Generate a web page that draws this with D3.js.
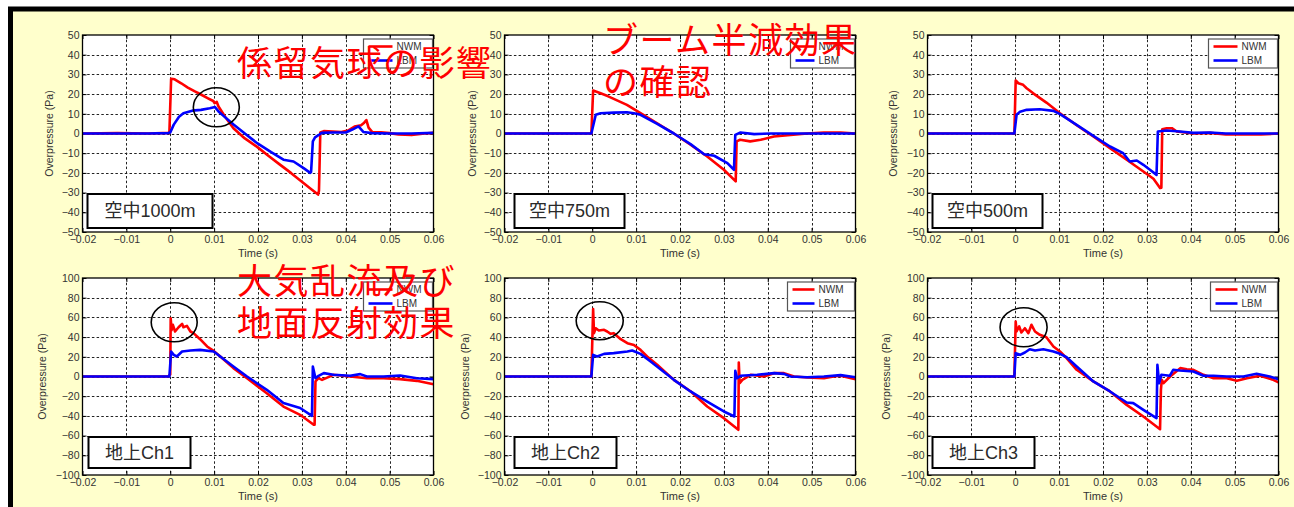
<!DOCTYPE html>
<html>
<head>
<meta charset="utf-8">
<script src="https://cdn.jsdelivr.net/npm/d3@7"></script>
<style>
  html, body { margin: 0; padding: 0; background: #fff; }
  svg { display: block; }
</style>
</head>
<body>
<svg id="chart" width="1294" height="507"></svg>
<script>
// ---- Axis ticks ----
const timeTicks = [-0.02, -0.01, 0, 0.01, 0.02, 0.03, 0.04, 0.05, 0.06];
const airTicks = [-50, -40, -30, -20, -10, 0, 10, 20, 30, 40, 50];
const groundTicks = [-100, -80, -60, -40, -20, 0, 20, 40, 60, 80, 100];

// ---- Panel names ----
const panelTitles = ["空中1000m", "空中750m", "空中500m", "地上Ch1", "地上Ch2", "地上Ch3"];
const seriesNames = ["NWM", "LBM"];

// ---- Measured / simulated waveforms: [time (s), overpressure (Pa)] ----
const nwmAir1000 = [[-0.02,0],[-0.012,0.2],[-0.005,0],[-0.0002,0.3],[0.0002,27.8],[0.001,27.5],[0.0025,25.5],
  [0.004,23.3],[0.0055,21.5],[0.007,19.8],[0.0085,18],[0.0098,16.5],[0.0101,15.4],[0.0106,16],[0.011,13.7],
  [0.0125,8.5],[0.0144,2.7],[0.017,-2.5],[0.0198,-6.8],[0.0225,-11.5],[0.025,-15.8],[0.0275,-20],
  [0.03,-24.5],[0.032,-28],[0.0337,-31],[0.0339,-29],[0.0342,0.5],[0.035,1.2],[0.037,1],[0.039,0.8],
  [0.0405,1.5],[0.042,3.5],[0.0435,4.2],[0.0442,5.5],[0.0447,6.8],[0.0452,3],[0.046,0.8],[0.048,0.6],
  [0.05,0.2],[0.052,-0.5],[0.055,-0.8],[0.058,0],[0.06,0.3]];
const lbmAir1000 = [[-0.02,0],[-0.005,0],[-0.0005,0.2],[0,0.5],[0.0008,4.5],[0.002,8.5],[0.003,10.3],[0.005,11.6],
  [0.007,12],[0.009,12.8],[0.0102,13.4],[0.011,11.2],[0.012,9.2],[0.0145,4.4],[0.017,0],[0.0198,-4.9],
  [0.023,-9.5],[0.0258,-13.3],[0.0281,-14.2],[0.0304,-17.6],[0.0319,-20],[0.0321,-19.5],[0.0325,-4],
  [0.033,-2],[0.034,-0.5],[0.0345,0.3],[0.037,0.5],[0.04,0.5],[0.0415,2],[0.0429,3.6],[0.044,0.8],
  [0.046,0.2],[0.05,0],[0.055,0],[0.06,0.3]];

const nwmAir750 = [[-0.02,0],[-0.01,0],[-0.0002,0],[0.0002,21.8],[0.0019,20.4],[0.0035,19],[0.0049,17.6],
  [0.0079,14.5],[0.011,10.3],[0.0148,5.2],[0.0186,0],[0.0224,-5.7],[0.0262,-11.7],[0.03,-18.4],
  [0.0327,-24.3],[0.0329,-4],[0.0337,-3.2],[0.036,-4],[0.0384,-3.2],[0.0414,-1.5],[0.0452,-0.7],
  [0.049,0],[0.0528,0.5],[0.0566,0.5],[0.06,0]];
const lbmAir750 = [[-0.02,0],[-0.01,0],[-0.0002,0],[0.0008,9.5],[0.0019,10.3],[0.0049,10.6],[0.0079,10.8],
  [0.0095,10.3],[0.011,9.5],[0.0148,4.9],[0.0186,0],[0.0224,-5.4],[0.0255,-10.5],[0.0278,-11.3],
  [0.0308,-15],[0.0323,-18.4],[0.0326,-0.7],[0.0338,0.5],[0.0369,-0.3],[0.0407,0],[0.05,0],[0.06,0]];

const nwmAir500 = [[-0.02,0],[-0.01,0],[-0.0002,0],[0.0001,26.9],[0.0007,25.5],[0.0018,24.7],[0.0026,23],
  [0.0041,20.4],[0.0071,15.7],[0.0102,10.3],[0.014,4.2],[0.0178,-1.5],[0.0216,-7.4],[0.0254,-13.3],
  [0.0292,-19.3],[0.0315,-23],[0.033,-27.7],[0.0333,-27.5],[0.0335,2.2],[0.0345,2.7],[0.0357,2.7],
  [0.0368,1],[0.0406,0],[0.0444,0.3],[0.048,-0.5],[0.052,-0.5],[0.056,-0.5],[0.06,0]];
const lbmAir500 = [[-0.02,0],[-0.01,0],[-0.0002,0],[0.0003,9.5],[0.0011,11.1],[0.0026,12],[0.0056,12.3],
  [0.0087,11.5],[0.0102,9.8],[0.014,4.4],[0.0178,-1.2],[0.0216,-6.6],[0.0246,-10],[0.0261,-14.2],
  [0.0277,-13.7],[0.0292,-15.9],[0.0307,-18.4],[0.0322,-21],[0.0325,1],[0.0345,1.5],[0.0375,1],
  [0.0406,0.3],[0.0444,0.5],[0.048,0],[0.06,0]];

const nwmGround1 = [[-0.02,0],[-0.01,0],[-0.0005,0],[0,2],[0.0001,59],[0.0003,47],[0.0006,52.5],[0.0011,45.7],
  [0.0019,50],[0.0027,53.5],[0.003,50],[0.0038,51.4],[0.0046,45.7],[0.0053,44],[0.0068,37.9],
  [0.0084,30.5],[0.0099,26],[0.0114,20.3],[0.0144,8.5],[0.0175,-1.7],[0.022,-17],[0.0258,-30.5],
  [0.0296,-38.9],[0.0327,-49],[0.0329,-49],[0.0331,-5],[0.0338,-1.7],[0.0346,-3.4],[0.0372,1.7],
  [0.041,0],[0.0448,-1.7],[0.0486,-1.7],[0.0524,-2.7],[0.0562,-4.4],[0.06,-7.8]];
const lbmGround1 = [[-0.02,0],[-0.01,0],[-0.0002,0],[0.0002,25.4],[0.0008,22],[0.0015,20.3],[0.0027,25.4],
  [0.0046,26.4],[0.0068,27],[0.0099,25.4],[0.0114,20.3],[0.0144,10.2],[0.0175,0],[0.022,-13.5],
  [0.0258,-27],[0.0296,-32],[0.0323,-40],[0.0325,10.2],[0.0331,-1.7],[0.0338,0.7],[0.035,3.4],
  [0.0372,1.7],[0.041,0.7],[0.0433,2.4],[0.0448,0],[0.0486,0],[0.0524,1],[0.0562,-1.7],[0.06,-2.7]];

const nwmGround2 = [[-0.02,0],[-0.01,0],[-0.0002,0],[0.0002,68.4],[0.0004,44],[0.0008,49],[0.0015,46.7],
  [0.0027,47.4],[0.0034,45.7],[0.0042,43.3],[0.0049,44],[0.0065,37.9],[0.008,33.8],[0.0095,32],
  [0.011,27],[0.0125,20.3],[0.0148,12],[0.0186,-3.4],[0.0224,-15],[0.0262,-30.5],[0.03,-42.3],
  [0.0333,-54.1],[0.0334,14.2],[0.0336,-6.8],[0.0342,-3.4],[0.0361,1.7],[0.0391,0],[0.0414,3.4],
  [0.0437,3.4],[0.046,0],[0.049,-1],[0.0528,-1.7],[0.055,0],[0.0566,0.7],[0.06,-2.7]];
const lbmGround2 = [[-0.02,0],[-0.01,0],[-0.0002,0],[0.0002,22],[0.0011,20.3],[0.0027,23],[0.0049,23.7],
  [0.008,25.4],[0.0091,26.4],[0.011,23],[0.0133,15.2],[0.0186,-3.4],[0.0224,-15.2],[0.0262,-25.4],
  [0.03,-35.5],[0.0324,-40.6],[0.0326,5.8],[0.033,-1.7],[0.0338,0.7],[0.0376,1.7],[0.0414,3.4],
  [0.0437,2.7],[0.0452,0],[0.049,-0.7],[0.0528,0],[0.0566,1.4],[0.06,-0.7]];

const nwmGround3 = [[-0.02,0],[-0.01,0],[-0.0002,0],[0.0001,55.8],[0.0003,45.7],[0.0009,50.8],[0.0014,44.7],
  [0.0022,49],[0.003,44],[0.0037,52.5],[0.0045,45.7],[0.0056,42.3],[0.0071,39.9],[0.0087,30.5],
  [0.0102,25.4],[0.0117,18.6],[0.014,6.8],[0.0178,-5],[0.0216,-15.2],[0.0254,-28.8],[0.0292,-40.6],
  [0.033,-53.5],[0.0332,-13.5],[0.0334,-3.4],[0.0338,-6.8],[0.0353,0],[0.0376,8.5],[0.0391,7.4],
  [0.0406,6.8],[0.0429,1.7],[0.0452,-1.7],[0.0482,-1.7],[0.0505,-4.4],[0.0528,-1.7],[0.0558,0.7],
  [0.0588,-3.4],[0.06,-6]];
const lbmGround3 = [[-0.02,0],[-0.01,0],[-0.0002,0],[0.0001,23.7],[0.0011,22],[0.0022,24.4],[0.0033,27.7],
  [0.0045,26.4],[0.0064,27.7],[0.0087,25.4],[0.0102,23],[0.0117,19.6],[0.014,10.2],[0.0178,-5],
  [0.0216,-15.2],[0.0254,-26.4],[0.0269,-27],[0.0292,-33.8],[0.0322,-42.3],[0.0324,11.8],
  [0.0328,-6.8],[0.0333,1.7],[0.0352,0.7],[0.036,6.8],[0.0375,6.1],[0.0406,5.1],[0.0429,0.7],
  [0.0452,0.7],[0.0482,0],[0.052,0],[0.055,2.7],[0.058,0],[0.06,-2.7]];

const nwmSeries = [nwmAir1000, nwmAir750, nwmAir500, nwmGround1, nwmGround2, nwmGround3];
const lbmSeries = [lbmAir1000, lbmAir750, lbmAir500, lbmGround1, lbmGround2, lbmGround3];

// Highlight ellipses: [panel, centre time, centre Pa, half-width s, half-height Pa]
const highlights = [
  [0, 0.0105, 13.3, 0.00524, 9.9],
  [3, 0.0009, 55.1, 0.00524, 19.8],
  [4, 0.0017, 56.6, 0.00536, 19.3],
  [5, 0.0019, 50.0, 0.00536, 19.8]
];

// Red commentary text
const notes = [
  { lines: ["係留気球の影響"], x: 237, y: 76 },
  { lines: ["ブーム半減効果", "の確認"], x: 603, y: 53 },
  { lines: ["大気乱流及び", "地面反射効果"], x: 237, y: 294 }
];

// ---- Layout ----
const plots = [
  { x0: 82.5, x1: 433.5, y0: 35, y1: 232, air: true,  ylabDx: -33, lab: [5, 125, 34], legW: 69 },
  { x0: 504.5, x1: 855.5, y0: 35, y1: 232, air: true,  ylabDx: -32, lab: [10, 110, 34], legW: 64 },
  { x0: 927.5, x1: 1278.5, y0: 35, y1: 232, air: true, ylabDx: -34, lab: [5, 110, 34], legW: 69 },
  { x0: 82.5, x1: 433.5, y0: 278, y1: 475, air: false, ylabDx: -40, lab: [6, 102, 31], legW: 69 },
  { x0: 504.5, x1: 855.5, y0: 278, y1: 475, air: false, ylabDx: -39, lab: [10, 102, 31], legW: 67 },
  { x0: 927.5, x1: 1278.5, y0: 278, y1: 475, air: false, ylabDx: -41, lab: [5, 102, 31], legW: 67 }
];

const svg = d3.select("#chart");
const W = 1294, H = 507;
const tickFont = "'Liberation Sans', Arial, Helvetica, sans-serif";
const labelFont = "'Liberation Sans', 'Noto Sans CJK JP', sans-serif";
const jpFont = "'Noto Sans CJK JP', 'Liberation Sans', sans-serif";

svg.append("rect").attr("width", W).attr("height", H).attr("fill", "#ffffff");
svg.append("rect").attr("x", 10).attr("y", 9).attr("width", W - 10).attr("height", H - 9).attr("fill", "#ffffcc");
svg.append("path").attr("d", `M10.5,${H} V9 H${W}`).attr("fill", "none")
  .attr("stroke", "#000").attr("stroke-width", 5);

const fmtTime = d => d === 0 ? "0" : d3.format(".2f")(d);
const fmtPa = d3.format("d");

plots.forEach((p, i) => {
  const x = d3.scaleLinear().domain([-0.02, 0.06]).range([p.x0, p.x1]);
  const yDom = p.air ? [-50, 50] : [-100, 100];
  const y = d3.scaleLinear().domain(yDom).range([p.y1, p.y0]);
  const yTicks = p.air ? airTicks : groundTicks;
  const g = svg.append("g");

  g.append("rect").attr("x", p.x0).attr("y", p.y0)
    .attr("width", p.x1 - p.x0).attr("height", p.y1 - p.y0).attr("fill", "#fff");

  // dotted grid
  const grid = g.append("g").attr("stroke", "#222").attr("stroke-width", 1)
    .attr("stroke-dasharray", "2.5,2.2").attr("fill", "none");
  timeTicks.slice(1, -1).forEach(t => {
    grid.append("line").attr("x1", Math.round(x(t)) + 0.5).attr("x2", Math.round(x(t)) + 0.5)
      .attr("y1", p.y0).attr("y2", p.y1);
  });
  yTicks.slice(1, -1).forEach(v => {
    grid.append("line").attr("y1", Math.round(y(v)) + 0.5).attr("y2", Math.round(y(v)) + 0.5)
      .attr("x1", p.x0).attr("x2", p.x1);
  });

  // axes with inward ticks
  const axB = g.append("g").attr("transform", `translate(0,${p.y1})`)
    .call(d3.axisBottom(x).tickValues(timeTicks).tickFormat(fmtTime).tickSizeInner(-4).tickSizeOuter(0).tickPadding(3));
  const axT = g.append("g").attr("transform", `translate(0,${p.y0})`)
    .call(d3.axisTop(x).tickValues(timeTicks).tickFormat("").tickSizeInner(-4).tickSizeOuter(0));
  const axL = g.append("g").attr("transform", `translate(${p.x0},0)`)
    .call(d3.axisLeft(y).tickValues(yTicks).tickFormat(fmtPa).tickSizeInner(-4).tickSizeOuter(0).tickPadding(3));
  const axR = g.append("g").attr("transform", `translate(${p.x1},0)`)
    .call(d3.axisRight(y).tickValues(yTicks).tickFormat("").tickSizeInner(-4).tickSizeOuter(0));
  [axB, axT, axL, axR].forEach(a => {
    a.select(".domain").remove();
    a.selectAll(".tick line").attr("stroke", "#000").attr("stroke-width", 1);
    a.selectAll("text").attr("fill", "#333").style("font-family", tickFont).style("font-size", "10.5px");
  });
  axB.selectAll("text").attr("dy", "0.75em");

  // axis titles
  g.append("text").attr("x", (p.x0 + p.x1) / 2).attr("y", p.y1 + 25)
    .attr("text-anchor", "middle").attr("fill", "#333")
    .style("font-family", tickFont).style("font-size", "11px").text("Time (s)");
  g.append("text")
    .attr("transform", `translate(${p.x0 + p.ylabDx},${(p.y0 + p.y1) / 2}) rotate(-90)`)
    .attr("text-anchor", "middle").attr("dy", "0.35em").attr("fill", "#333")
    .style("font-family", tickFont).style("font-size", "10.5px").text("Overpressure (Pa)");

  // waveforms
  const clipId = "clip" + i;
  svg.append("clipPath").attr("id", clipId).append("rect")
    .attr("x", p.x0).attr("y", p.y0).attr("width", p.x1 - p.x0).attr("height", p.y1 - p.y0);
  const line = d3.line().x(d => x(d[0])).y(d => y(d[1]));
  const lines = g.append("g").attr("clip-path", `url(#${clipId})`).attr("fill", "none")
    .attr("stroke-width", 2.6).attr("stroke-linejoin", "round").attr("stroke-linecap", "round");
  lines.append("path").datum(nwmSeries[i]).attr("d", line).attr("stroke", "#ff0000");
  lines.append("path").datum(lbmSeries[i]).attr("d", line).attr("stroke", "#0000ff");

  // frame
  g.append("rect").attr("x", p.x0).attr("y", p.y0)
    .attr("width", p.x1 - p.x0).attr("height", p.y1 - p.y0)
    .attr("fill", "none").attr("stroke", "#000").attr("stroke-width", 1.3);

  // legend
  const lg = g.append("g").attr("transform", `translate(${p.x1 - p.legW - 1},${p.y0 + 4})`);
  lg.append("rect").attr("width", p.legW).attr("height", 29)
    .attr("fill", "#fff").attr("stroke", "#555").attr("stroke-width", 1.2);
  [["#ff0000", seriesNames[0]], ["#0000ff", seriesNames[1]]].forEach((s, k) => {
    const yy = 7.5 + k * 14;
    lg.append("line").attr("x1", 5).attr("x2", p.legW - 40).attr("y1", yy).attr("y2", yy)
      .attr("stroke", s[0]).attr("stroke-width", 2.6);
    lg.append("text").attr("x", p.legW - 36).attr("y", yy).attr("dy", "0.35em")
      .attr("fill", "#333").style("font-family", tickFont).style("font-size", "10px").text(s[1]);
  });

  // station label box
  const [dx, bw, bh] = p.lab;
  const bx = p.x0 + dx, by = p.y1 - 38;
  g.append("rect").attr("x", bx).attr("y", by).attr("width", bw).attr("height", bh)
    .attr("fill", "#fff").attr("stroke", "#000").attr("stroke-width", 2);
  g.append("text").attr("x", bx + bw / 2).attr("y", by + bh / 2).attr("dy", "0.36em")
    .attr("text-anchor", "middle").attr("fill", "#2a2a2a")
    .style("font-family", labelFont).style("font-size", "18px").text(panelTitles[i]);

  // highlight ellipses
  highlights.filter(h => h[0] === i).forEach(h => {
    g.append("ellipse").attr("cx", x(h[1])).attr("cy", y(h[2]))
      .attr("rx", x(h[1] + h[3]) - x(h[1])).attr("ry", y(h[2] - h[4]) - y(h[2]))
      .attr("fill", "none").attr("stroke", "#000").attr("stroke-width", 1.6);
  });
});

// red commentary
notes.forEach(n => {
  const t = svg.append("text").attr("x", n.x).attr("y", n.y).attr("fill", "#ff0000")
    .style("font-family", jpFont).style("font-size", "35px").style("letter-spacing", "1.5px");
  n.lines.forEach((s, k) => {
    t.append("tspan").attr("x", n.x).attr("dy", k === 0 ? 0 : 42).text(s);
  });
});
</script>
</body>
</html>
